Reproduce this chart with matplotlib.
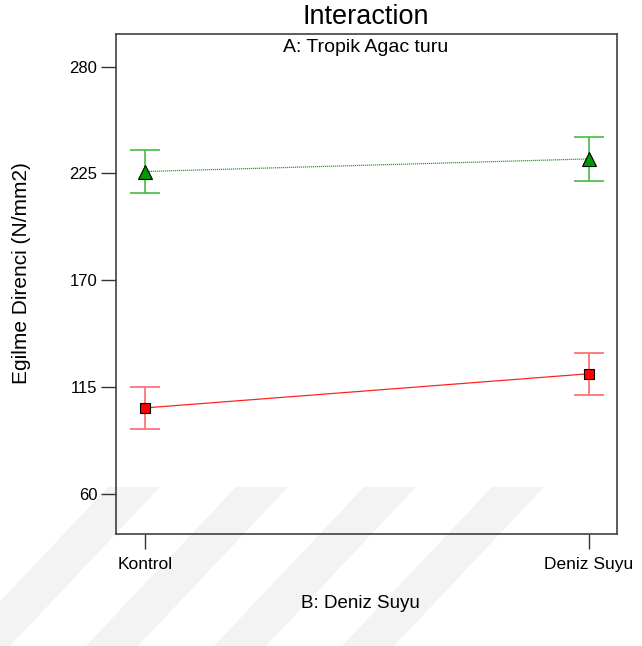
import numpy as np
import matplotlib.pyplot as plt
from matplotlib.patches import Polygon

# data
levels = ['Kontrol', 'Deniz Suyu']
green_mean = [226.0, 232.5]
green_err = [10.9, 11.2]
red_mean = [104.3, 121.9]
red_err = [10.8, 10.9]
y_ticks = [60, 115, 170, 225, 280]

W, H = 642, 646
plt.rcParams['font.family'] = ['Liberation Sans', 'DejaVu Sans']

fig = plt.figure(figsize=(W / 100, H / 100), dpi=100)

# faint diagonal watermark stripes at the bottom
for x0 in [108, 236, 364, 492]:
    pts = [(x0, 487), (x0 + 52, 487), (x0 + 52 - 150, 646), (x0 - 150, 646)]
    pts = [(px / W, 1 - py / H) for px, py in pts]
    fig.patches.append(Polygon(pts, closed=True, transform=fig.transFigure,
                               facecolor='#f3f3f3', edgecolor='none', zorder=-5))

ax = fig.add_axes([116 / W, 1 - 534 / H, (617 - 116) / W, (534 - 34) / H])
ax.set_facecolor('none')
ax.set_zorder(2)

x = np.arange(len(levels))

ax.errorbar(x, green_mean, yerr=green_err, fmt='none', ecolor='#44bb44',
            elinewidth=1.2, capsize=11, capthick=1.2, zorder=2)
ax.errorbar(x, red_mean, yerr=red_err, fmt='none', ecolor='#ff6a6a',
            elinewidth=1.2, capsize=11, capthick=1.2, zorder=2)
ax.plot(x, green_mean, color='#22aa22', lw=0.9, ls=(0, (1, 0.6)), zorder=3)
ax.plot(x, red_mean, color='#ff2222', lw=0.9, zorder=3)
ax.plot(x, green_mean, ls='none', marker='^', ms=9.5, mfc='#009900',
        mec='black', mew=0.8, zorder=4)
ax.plot(x, red_mean, ls='none', marker='s', ms=7.5, mfc='#ff0000',
        mec='black', mew=0.8, zorder=4)

ax.set_xlim(-0.065, 1.063)
ax.set_ylim(39.4, 296.8)
ax.set_yticks(y_ticks)
ax.set_xticks(x)
ax.set_xticklabels(levels)
ax.tick_params(direction='out', length=10.5, width=1.0, color='#333333',
               labelsize=12, pad=3)
ax.tick_params(axis='x', labelsize=12.5, pad=6)
for s in ax.spines.values():
    s.set_color('#404040')
    s.set_linewidth(1.2)

fig.text(366 / W, 1 - 17 / H, 'Interaction', ha='center', va='center', fontsize=19.5)
fig.text(366 / W, 1 - 48 / H, 'A: Tropik Agac turu', ha='center', va='center', fontsize=14)
fig.text(360 / W, 1 - 604 / H, 'B: Deniz Suyu', ha='center', va='center', fontsize=13.5)
fig.text(22 / W, 1 - 273 / H, 'Egilme Direnci (N/mm2)', ha='center', va='center',
         rotation=90, fontsize=15)

fig.savefig('out.png', dpi=100)
